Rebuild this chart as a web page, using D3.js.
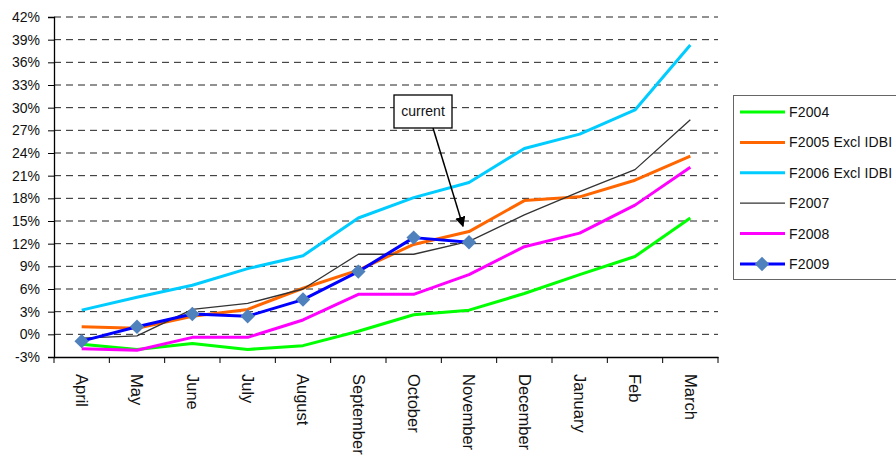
<!DOCTYPE html>
<meta charset="utf-8">
<script src="https://d3js.org/d3.v7.min.js"></script>
<style>
  body { margin: 0; background: #fff; }
  text { font-family: "Liberation Sans", Arial, sans-serif; fill: #111; }
</style>
<svg id="chart" width="896" height="456"></svg>
<script>

// Data
var months = ["April", "May", "June", "July", "August", "September", "October",
  "November", "December", "January", "Feb", "March"];
var yTicks = [-3, 0, 3, 6, 9, 12, 15, 18, 21, 24, 27, 30, 33, 36, 39, 42];

var f2004 = [-1.3, -2.0, -1.2, -2.0, -1.5, 0.4, 2.6, 3.2, 5.4, 7.9, 10.3, 15.4];
var f2005 = [1.0, 0.8, 2.4, 3.3, 6.1, 8.5, 11.9, 13.6, 17.7, 18.2, 20.4, 23.6];
var f2006 = [3.2, 4.9, 6.5, 8.7, 10.4, 15.4, 18.1, 20.1, 24.6, 26.5, 29.7, 38.3];
var f2007 = [-0.5, -0.2, 3.3, 4.1, 6.0, 10.6, 10.6, 12.3, 15.8, 18.9, 21.8, 28.4];
var f2008 = [-1.9, -2.1, -0.4, -0.4, 1.9, 5.3, 5.3, 7.9, 11.6, 13.4, 17.1, 22.1];
var f2009 = [-0.9, 1.0, 2.7, 2.4, 4.6, 8.3, 12.8, 12.2];

var series = [
  { name: "F2004", values: f2004, color: "#00ff00", width: 3 },
  { name: "F2005 Excl IDBI", values: f2005, color: "#ff6600", width: 3 },
  { name: "F2006 Excl IDBI", values: f2006, color: "#00ccff", width: 3 },
  { name: "F2007", values: f2007, color: "#333333", width: 1.3 },
  { name: "F2008", values: f2008, color: "#ff00ff", width: 3 },
  { name: "F2009", values: f2009, color: "#0000ff", width: 3, marker: true }
];

var svg = d3.select("#chart");

// scales
var x = d3.scaleBand().domain(months).range([54, 718]);
var y = d3.scaleLinear().domain([-3, 42]).range([357, 17]);
var cx = function(m) { return x(m) + x.bandwidth() / 2; };

// gridlines
svg.append("g")
  .selectAll("line")
  .data(yTicks.filter(function(d) { return d > -3; }))
  .enter()
  .append("line")
    .attr("x1", 54).attr("x2", 718)
    .attr("y1", function(d) { return y(d); })
    .attr("y2", function(d) { return y(d); })
    .attr("stroke", "#222")
    .attr("stroke-width", 1)
    .attr("stroke-dasharray", "7,5");

// y axis
var yAxis = svg.append("g")
  .attr("transform", "translate(54,0)")
  .call(d3.axisLeft(y).tickValues(yTicks).tickSize(6).tickPadding(8)
    .tickFormat(function(d) { return d + "%"; }));
yAxis.select(".domain").attr("stroke", "#000").attr("stroke-width", 1.3);
yAxis.selectAll(".tick line").attr("stroke", "#000");
yAxis.selectAll("text").style("font-size", "14px").attr("fill", "#111")
  .style("font-family", "'Liberation Sans', Arial, sans-serif");

// x axis
var xAxis = svg.append("g")
  .attr("transform", "translate(0,357)")
  .call(d3.axisBottom(x).tickSize(0).tickFormat(""));
xAxis.select(".domain").attr("stroke", "#000").attr("stroke-width", 1.3);

svg.append("g")
  .selectAll("line")
  .data(d3.range(months.length + 1))
  .enter()
  .append("line")
    .attr("x1", function(i) { return 54 + i * x.bandwidth(); })
    .attr("x2", function(i) { return 54 + i * x.bandwidth(); })
    .attr("y1", 357).attr("y2", 363)
    .attr("stroke", "#000");

svg.append("g")
  .selectAll("text")
  .data(months)
  .enter()
  .append("text")
    .attr("transform", function(d) { return "translate(" + cx(d) + ",374) rotate(90)"; })
    .attr("dy", "0.35em")
    .style("font-size", "16.5px")
    .text(function(d) { return d; });

// lines
var line = d3.line()
  .x(function(d, i) { return cx(months[i]); })
  .y(function(d) { return y(d); });

series.forEach(function(s) {
  svg.append("path")
    .datum(s.values)
    .attr("d", line)
    .attr("fill", "none")
    .attr("stroke", s.color)
    .attr("stroke-width", s.width)
    .attr("stroke-linejoin", "round");
});

var diamond = d3.symbol().type(d3.symbolDiamond2).size(110);
svg.append("g")
  .selectAll("path")
  .data(f2009)
  .enter()
  .append("path")
    .attr("d", diamond)
    .attr("transform", function(d, i) { return "translate(" + cx(months[i]) + "," + y(d) + ") scale(1.1,1.1)"; })
    .attr("fill", "#4f81bd");

// annotation "current"
var defs = svg.append("defs");
defs.append("marker")
  .attr("id", "arrow")
  .attr("viewBox", "0 0 10 10")
  .attr("refX", 9).attr("refY", 5)
  .attr("markerWidth", 7).attr("markerHeight", 7)
  .attr("orient", "auto")
  .append("path")
    .attr("d", "M0,0 L10,5 L0,10 Z")
    .attr("fill", "#000");

var tipX = cx("November") - 6, tipY = y(14.3);
svg.append("line")
  .attr("x1", 433).attr("y1", 128)
  .attr("x2", tipX).attr("y2", tipY)
  .attr("stroke", "#000").attr("stroke-width", 1.5)
  .attr("marker-end", "url(#arrow)");
svg.append("rect")
  .attr("x", 394).attr("y", 95).attr("width", 58).attr("height", 33)
  .attr("fill", "#fff").attr("stroke", "#000").attr("stroke-width", 1.3);
svg.append("text")
  .attr("x", 423).attr("y", 111).attr("dy", "0.35em")
  .attr("text-anchor", "middle")
  .style("font-size", "14px")
  .text("current");

// legend
var legend = svg.append("g");
legend.append("rect")
  .attr("x", 733.5).attr("y", 95.5).attr("width", 180).attr("height", 184)
  .attr("fill", "#fff").attr("stroke", "#666").attr("stroke-width", 1);

var rows = legend.selectAll("g.row")
  .data(series)
  .enter()
  .append("g")
    .attr("class", "row")
    .attr("transform", function(d, i) { return "translate(0," + (112 + i * 30.4) + ")"; });

rows.append("line")
  .attr("x1", 740).attr("x2", 785)
  .attr("stroke", function(d) { return d.color; })
  .attr("stroke-width", function(d) { return d.width; });

rows.filter(function(d) { return d.marker; })
  .append("path")
    .attr("d", diamond)
    .attr("transform", "translate(762,0) scale(1.1,1.1)")
    .attr("fill", "#4f81bd");

rows.append("text")
  .attr("x", 789).attr("dy", "0.35em")
  .style("font-size", "14px")
  .style("letter-spacing", "0.15px")
  .text(function(d) { return d.name; });

</script>
